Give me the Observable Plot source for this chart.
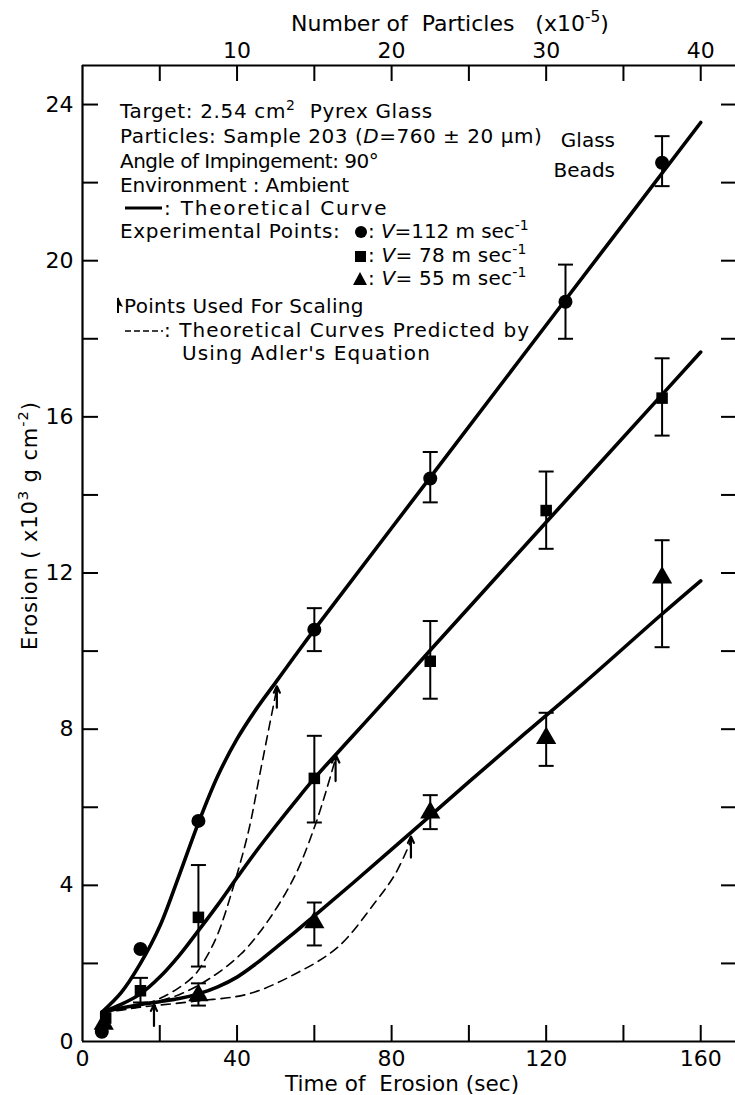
<!DOCTYPE html>
<html><head><meta charset="utf-8">
<script src="https://cdn.jsdelivr.net/npm/d3@7"></script>
<script src="https://cdn.jsdelivr.net/npm/@observablehq/plot@0.6"></script>
<style>
html,body{margin:0;padding:0;background:#fff;}
#chart svg{display:block;}
</style></head>
<body><div id="chart"></div>
<script>
// ---------- data ----------
// V = 112 m/s (circles)
const t112 = [5, 15, 30, 60, 90, 125, 150];
const e112 = [0.25, 2.37, 5.65, 10.55, 14.42, 18.95, 22.51];
const lo112 = [null, null, null, 10.0, 13.81, 18.0, 21.91];
const hi112 = [null, null, null, 11.1, 15.1, 19.9, 23.19];
// V = 78 m/s (squares)
const t78 = [6, 15, 30, 60, 90, 120, 150];
const e78 = [0.6, 1.3, 3.18, 6.74, 9.74, 13.6, 16.48];
const lo78 = [null, 1.0, 1.92, 5.61, 8.78, 12.62, 15.52];
const hi78 = [null, 1.63, 4.52, 7.83, 10.77, 14.6, 17.5];
// V = 55 m/s (triangles)
const t55 = [5.5, 30, 60, 90, 120, 150];
const e55 = [0.45, 1.18, 3.05, 5.86, 7.77, 11.88];
const lo55 = [null, 0.92, 2.46, 5.44, 7.06, 10.1];
const hi55 = [null, 1.49, 3.56, 6.31, 8.42, 12.84];

// theoretical curves (solid)
const curveT112 = [5, 10, 15, 20, 25, 30, 35, 40, 45, 50, 55, 60, 90, 125, 160];
const curveE112 = [0.75, 1.25, 2.0, 2.95, 4.25, 5.6, 6.8, 7.75, 8.52, 9.2, 9.88, 10.55, 14.45, 19.0, 23.54];
const curveT78 = [5, 10, 15, 20, 25, 30, 35, 40, 45, 50, 55, 60, 70, 80, 90, 120, 150, 160];
const curveE78 = [0.75, 0.95, 1.22, 1.65, 2.2, 2.84, 3.5, 4.2, 4.88, 5.52, 6.14, 6.74, 7.83, 8.92, 10.02, 13.3, 16.57, 17.66];
const curveT55 = [5, 10, 15, 20, 25, 30, 35, 40, 45, 50, 55, 60, 70, 85, 100, 115, 130, 150, 160];
const curveE55 = [0.75, 0.86, 0.95, 1.02, 1.1, 1.22, 1.4, 1.65, 2.0, 2.4, 2.8, 3.22, 4.06, 5.35, 6.65, 7.93, 9.2, 10.95, 11.8];

// theoretical curves predicted by Adler's equation (dashed)
const adlerT112 = [5, 10, 15, 20, 25, 29, 32, 35, 39, 43, 46, 50.3];
const adlerE112 = [0.75, 0.8, 0.9, 1.1, 1.38, 1.7, 2.15, 2.75, 3.95, 5.4, 6.9, 9.05];
const adlerT78 = [5, 15, 25, 33, 41, 48, 55, 60, 63, 65.5];
const adlerE78 = [0.75, 0.92, 1.2, 1.62, 2.24, 3.09, 4.25, 5.48, 6.4, 7.25];
const adlerT55 = [5, 15, 29, 43, 55, 66, 76, 81, 85];
const adlerE55 = [0.75, 0.88, 1.03, 1.22, 1.73, 2.41, 3.6, 4.3, 5.14];

// points used for scaling (arrows)
const scaleT = [18.5, 50.3, 65.5, 85];
const scaleTop = [0.95, 9.1, 7.35, 5.25];
const scaleBottom = [0.4, 8.55, 6.67, 4.71];

// ticks
const xMinorTicks = [20, 40, 60, 80, 100, 120, 140, 160];
const xTickLabels = [0, 40, 80, 120, 160];
const yMinorTicks = [2, 4, 6, 8, 10, 12, 14, 16, 18, 20, 22, 24];
const yTickLabels = [0, 4, 8, 12, 16, 20, 24];
const topTickTimes = [40, 80, 120, 160];
const topTickLabels = ["10", "20", "30", "40"];

// ---------- build tables ----------
const rows = (ts, es, lo, hi) => ts.map((t, i) => ({t, e: es[i], lo: lo[i], hi: hi[i]}));
const pts112 = rows(t112, e112, lo112, hi112);
const pts78 = rows(t78, e78, lo78, hi78);
const pts55 = rows(t55, e55, lo55, hi55);
const bars = [...pts112, ...pts78, ...pts55].filter(d => d.lo != null);
const curve = (ts, es, id) => ts.map((t, i) => ({t, e: es[i], id}));
const solid = [...curve(curveT112, curveE112, "a"), ...curve(curveT78, curveE78, "b"), ...curve(curveT55, curveE55, "c")];
const dashed = [...curve(adlerT112, adlerE112, "a"), ...curve(adlerT78, adlerE78, "b"), ...curve(adlerT55, adlerE55, "c")];
const arrows = scaleT.map((t, i) => ({t, top: scaleTop[i], bottom: scaleBottom[i]}));

const capSymbol = { draw(ctx, size) { ctx.moveTo(-7.5, 0); ctx.lineTo(7.5, 0); } };

const chart = Plot.plot({
  width: 735, height: 1095,
  marginLeft: 82, marginRight: 0, marginTop: 65, marginBottom: 54,
  x: { domain: [0, 169] },
  y: { domain: [0, 25] },
  style: { fontFamily: "DejaVu Sans", fontSize: "22px", color: "black", background: "white" },
  marks: [
    Plot.ruleX([0], { strokeWidth: 2.2 }),
    Plot.ruleY([0], { strokeWidth: 2.2 }),
    Plot.ruleY([25], { strokeWidth: 2.2 }),
    Plot.axisX({ anchor: "bottom", ticks: xMinorTicks, tickSize: -16, tickFormat: () => "", strokeWidth: 2, label: null }),
    Plot.axisX({ anchor: "bottom", ticks: xTickLabels, tickSize: 0, tickPadding: 9, label: null }),
    Plot.axisX({ anchor: "top", ticks: xMinorTicks, tickSize: -15, tickFormat: () => "", strokeWidth: 2, label: null }),
    Plot.axisX({ anchor: "top", ticks: topTickTimes, tickSize: 0, tickPadding: 8, tickFormat: d => topTickLabels[topTickTimes.indexOf(d)], label: null }),
    Plot.axisY({ anchor: "left", ticks: yMinorTicks, tickSize: -16, tickFormat: () => "", strokeWidth: 2, label: null }),
    Plot.axisY({ anchor: "left", ticks: yTickLabels, tickSize: 0, tickPadding: 9, label: null }),
    Plot.axisY({ anchor: "right", ticks: yMinorTicks, tickSize: -15, tickFormat: () => "", strokeWidth: 2, label: null }),
    Plot.line(dashed, { x: "t", y: "e", z: "id", curve: "catmull-rom", stroke: "black", strokeWidth: 1.6, strokeDasharray: "9,6" }),
    Plot.line(solid, { x: "t", y: "e", z: "id", curve: "catmull-rom", stroke: "black", strokeWidth: 3.6 }),
    Plot.ruleX(bars, { x: "t", y1: "lo", y2: "hi", strokeWidth: 2 }),
    Plot.dot(bars, { x: "t", y: "lo", symbol: capSymbol, stroke: "black", strokeWidth: 2, fill: "none", r: 5 }),
    Plot.dot(bars, { x: "t", y: "hi", symbol: capSymbol, stroke: "black", strokeWidth: 2, fill: "none", r: 5 }),
    Plot.arrow(arrows, { x1: "t", x2: "t", y1: "bottom", y2: "top", headLength: 8, headAngle: 50, strokeWidth: 2.2, stroke: "black" }),
    Plot.dot(pts112, { x: "t", y: "e", symbol: "circle", r: 7, fill: "black", stroke: "none" }),
    Plot.dot(pts78, { x: "t", y: "e", symbol: "square", r: 6.5, fill: "black", stroke: "none" }),
    Plot.dot(pts55, { x: "t", y: "e", symbol: "triangle", r: 7.5, fill: "black", stroke: "none" })
  ]
});
document.getElementById("chart").appendChild(chart);

// ---------- annotations (titles & key) ----------
const svg = d3.select(chart);
const g = svg.append("g").attr("font-family", "DejaVu Sans").attr("fill", "black");
function rich(x, y, segs, size, opts = {}) {
  const t = g.append("text").attr("x", x).attr("y", y).attr("font-size", size)
    .attr("text-anchor", opts.anchor || "start");
  if (opts.rotate) t.attr("transform", `rotate(${opts.rotate},${x},${y})`);
  let cur = 0;
  for (const s of segs) {
    const seg = typeof s === "string" ? { text: s } : s;
    const shift = seg.sup ? -size * 0.42 : 0;
    const sp = t.append("tspan").text(seg.text).attr("dy", shift - cur);
    cur = shift;
    if (seg.sup) sp.attr("font-size", size * 0.7);
    if (seg.italic) sp.attr("font-style", "italic");
  }
  if (opts.length) {
    // blend the font's own width toward the reference's width
    const natural = t.node().getComputedTextLength();
    const L = natural + 0.65 * (opts.length - natural);
    t.attr("textLength", L).attr("lengthAdjust", "spacing");
  }
  return t;
}
// axis titles
rich(402, 1091, ["Time of  Erosion (sec)"], 21.5, { anchor: "middle", length: 235 });
rich(450, 31, ["Number of  Particles   (x10", { text: "-5", sup: true }, ")"], 22, { anchor: "middle" });
rich(37, 526, ["Erosion ( x10", { text: "3", sup: true }, " g cm", { text: "-2", sup: true }, ")"], 21, { anchor: "middle", rotate: -90, length: 258 });

// key
const fs = 20;
rich(120, 118, ["Target: 2.54 cm", { text: "2", sup: true }, "  Pyrex Glass"], fs, { length: 322 });
rich(120, 143, ["Particles: Sample 203 (", { text: "D", italic: true }, "=760 ± 20 μm)"], fs, { length: 432 });
rich(615, 147, ["Glass"], fs, { anchor: "end" });
rich(120, 168, ["Angle of Impingement: 90°"], fs, { length: 252 });
rich(615, 177, ["Beads"], fs, { anchor: "end" });
rich(120, 192, ["Environment : Ambient"], fs, { length: 228 });
g.append("line").attr("x1", 125).attr("x2", 162).attr("y1", 208).attr("y2", 208).attr("stroke", "black").attr("stroke-width", 3);
rich(164, 215, [": Theoretical Curve"], fs, { length: 240 });
rich(120, 238, ["Experimental Points:"], fs, { length: 227 });
g.append("circle").attr("cx", 361).attr("cy", 232).attr("r", 6);
rich(368, 238, [": ", { text: "V", italic: true }, "=112 m sec", { text: "-1", sup: true }], fs, { length: 160 });
g.append("rect").attr("x", 355).attr("y", 251).attr("width", 11).attr("height", 11);
rich(368, 262, [": ", { text: "V", italic: true }, "= 78 m sec", { text: "-1", sup: true }], fs, { length: 160 });
g.append("path").attr("d", "M360,272 L367,285 L353,285 Z");
rich(368, 285, [": ", { text: "V", italic: true }, "= 55 m sec", { text: "-1", sup: true }], fs, { length: 160 });
g.append("line").attr("x1", 118).attr("x2", 118).attr("y1", 313).attr("y2", 298).attr("stroke", "black").attr("stroke-width", 2);
g.append("path").attr("d", "M118,297 L123,307 L118,305 Z");
rich(124, 313, ["Points Used For Scaling"], fs, { length: 243 });
g.append("line").attr("x1", 125).attr("x2", 163).attr("y1", 331).attr("y2", 331).attr("stroke", "black").attr("stroke-width", 1.6).attr("stroke-dasharray", "6,3");
rich(164, 337, [": Theoretical Curves Predicted by"], fs, { length: 383 });
rich(182, 360, ["Using Adler's Equation"], fs, { length: 260 });
</script></body></html>
